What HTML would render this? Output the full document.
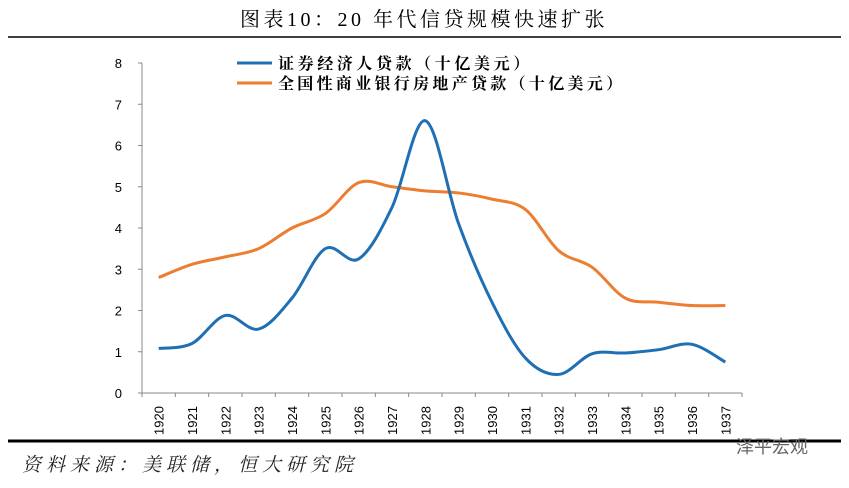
<!DOCTYPE html>
<html><head><meta charset="utf-8"><style>
body{margin:0;background:#fff;width:849px;height:483px;overflow:hidden;font-family:"Liberation Serif","Noto Serif CJK SC",serif}
</style></head><body>
<svg id="c" width="849" height="483" xmlns="http://www.w3.org/2000/svg">
<text x="424" y="26" text-anchor="middle" font-size="20" letter-spacing="3.5" fill="#000" font-family="Liberation Serif, Noto Serif CJK SC, serif">图表10：20 年代信贷规模快速扩张</text>
<line x1="8" y1="37" x2="841" y2="37" stroke="#000" stroke-width="1.5"/>
<line x1="8" y1="441" x2="841" y2="441" stroke="#000" stroke-width="3"/>
<text x="22" y="471" font-size="19" letter-spacing="5" font-style="italic" fill="#222" font-family="Liberation Serif, Noto Serif CJK SC, serif">资料来源：美联储，恒大研究院</text>
<text x="736" y="453" font-size="18" fill="#666" font-family="Liberation Sans, Noto Sans CJK SC, sans-serif">泽平宏观</text>
<g id="axes"></g><g id="series"></g>
<g>
<line x1="237" y1="63" x2="272" y2="63" stroke="#1f6fb4" stroke-width="3"/>
<text x="278" y="69" font-size="16" letter-spacing="3.6" font-weight="bold" font-family="Liberation Serif, Noto Serif CJK SC, serif">证券经济人贷款（十亿美元）</text>
<line x1="237" y1="83" x2="272" y2="83" stroke="#ed7d31" stroke-width="3"/>
<text x="278" y="89" font-size="16" letter-spacing="3.3" font-weight="bold" font-family="Liberation Serif, Noto Serif CJK SC, serif">全国性商业银行房地产贷款（十亿美元）</text>
</g>
</svg>
<script>
const years=["1920","1921","1922","1923","1924","1925","1926","1927","1928","1929","1930","1931","1932","1933","1934","1935","1936","1937"];
const brokerLoans=[1.08,1.2,1.88,1.55,2.3,3.5,3.25,4.5,6.6,4.1,2.2,0.85,0.45,0.95,0.97,1.05,1.18,0.75];
const realEstateLoans=[2.8,3.12,3.3,3.5,4.0,4.35,5.1,5.0,4.9,4.85,4.7,4.45,3.45,3.05,2.3,2.2,2.12,2.12];
const yTicks=[0,1,2,3,4,5,6,7,8];
const L=142,R=742,T=63,B=393,NS="http://www.w3.org/2000/svg";
const step=(R-L)/years.length;
const x=i=>L+step*(i+0.5);
const y=v=>B-(v/8)*(B-T);
const ax=document.getElementById('axes');
function mk(t,a,p){const e=document.createElementNS(NS,t);for(const k in a)e.setAttribute(k,a[k]);p.appendChild(e);return e;}
let e=mk('line',{x1:L,y1:T,x2:L,y2:B,stroke:'#888','stroke-width':1},ax);


e=mk('line',{x1:L,y1:B,x2:R,y2:B,stroke:'#888','stroke-width':1},ax);


yTicks.forEach(v=>{
  mk('line',{x1:L-4,y1:y(v),x2:L,y2:y(v),stroke:'#888'},ax);
  const t=mk('text',{x:L-20,y:y(v)+5,'text-anchor':'end','font-size':13,'font-family':'Liberation Sans, sans-serif'},ax);
  t.textContent=v;
  
  
});
for(let i=0;i<=years.length;i++)mk('line',{x1:L+step*i,y1:B,x2:L+step*i,y2:B+4,stroke:'#888'},ax);
years.forEach((yr,i)=>{
  const t=mk('text',{x:0,y:0,transform:`translate(${x(i)+5},${B+42}) rotate(-90)`,'font-size':13,'font-family':'Liberation Sans, sans-serif'},ax);
  t.textContent=yr;
  
  
});
function path(vals){
  const p=vals.map((v,i)=>[x(i),y(v)]);
  let d=`M${p[0][0]},${p[0][1]}`;
  for(let i=0;i<p.length-1;i++){
    const p0=p[Math.max(i-1,0)],p1=p[i],p2=p[i+1],p3=p[Math.min(i+2,p.length-1)];
    const c1=[p1[0]+(p2[0]-p0[0])/6,p1[1]+(p2[1]-p0[1])/6],c2=[p2[0]-(p3[0]-p1[0])/6,p2[1]-(p3[1]-p1[1])/6];
    d+=`C${c1[0]},${c1[1]} ${c2[0]},${c2[1]} ${p2[0]},${p2[1]}`;
  }
  return d;
}
const s=document.getElementById('series');
e=mk('path',{d:path(realEstateLoans),fill:'none',stroke:'#ed7d31','stroke-width':3},s);


e=mk('path',{d:path(brokerLoans),fill:'none',stroke:'#1f6fb4','stroke-width':3},s);


</script>
</body></html>
